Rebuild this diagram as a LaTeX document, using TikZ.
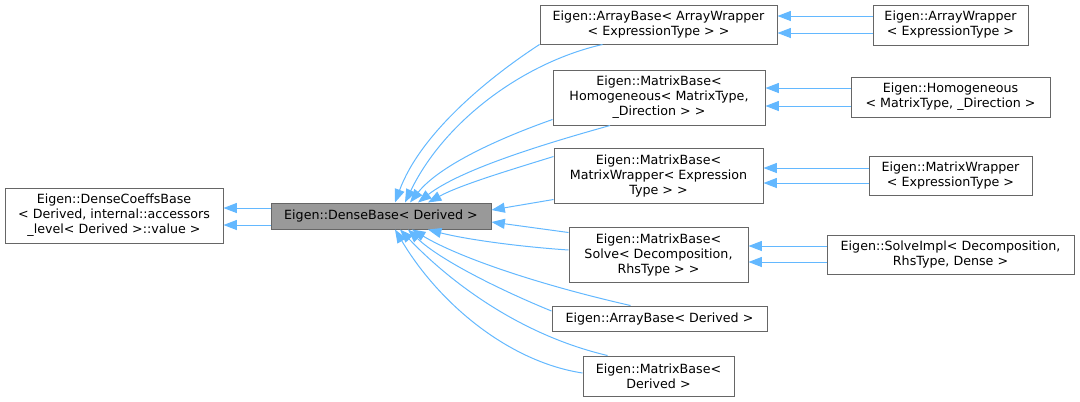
\documentclass[tikz,border=0pt]{standalone}
\usepackage{fontspec}
\setmainfont{DejaVu Sans}
\usetikzlibrary{arrows.meta, calc}

\definecolor{edgeblue}{HTML}{63B8FF}
\definecolor{boxgrey}{HTML}{666666}
\definecolor{fillgrey}{HTML}{999999}

\begin{document}
\begin{tikzpicture}[x=0.75pt, y=-0.75pt,
                cls/.style={draw=boxgrey, line width=0.75pt, rectangle, align=center, inner sep=0pt, font=\fontsize{9.5}{11.25}\selectfont},
                cur/.style={cls, fill=fillgrey},
                sz/.style 2 args={minimum width=#1*0.75pt, minimum height=#2*0.75pt},
                inh/.style={draw=edgeblue, line width=0.75pt, -{Triangle[length=10pt, width=7.5pt]}}
            ]
            \useasboundingbox (0,0) rectangle (1080,401);

            % Klassen
            \node[cls, sz={218}{55}] (dcb) at (114,215.5) {Eigen::DenseCoeffsBase\\< Derived, internal::accessors\\\_level< Derived >::value >};
            \node[cur, sz={220}{26}] (db) at (381,216) {Eigen::DenseBase< Derived >};

            \node[cls, sz={237}{39}] (abaw) at (658.5,24.5) {Eigen::ArrayBase< ArrayWrapper\\< ExpressionType > >};
            \node[cls, sz={212}{55}] (mbh) at (659,97.5) {Eigen::MatrixBase<\\Homogeneous< MatrixType,\\\_Direction > >};
            \node[cls, sz={209}{55}] (mbmw) at (658.5,175.5) {Eigen::MatrixBase<\\MatrixWrapper< Expression\\Type > >};
            \node[cls, sz={179}{55}] (mbs) at (658.5,254.5) {Eigen::MatrixBase<\\Solve< Decomposition,\\RhsType > >};
            \node[cls, sz={215}{25}] (abd) at (659.5,318.5) {Eigen::ArrayBase< Derived >};
            \node[cls, sz={151}{40}] (mbd) at (658.5,376) {Eigen::MatrixBase<\\Derived >};

            \node[cls, sz={155}{40}] (aw) at (950.5,25) {Eigen::ArrayWrapper\\< ExpressionType >};
            \node[cls, sz={199}{40}] (hom) at (950.5,97) {Eigen::Homogeneous\\< MatrixType, \_Direction >};
            \node[cls, sz={163}{39}] (mw) at (950.5,175.5) {Eigen::MatrixWrapper\\< ExpressionType >};
            \node[cls, sz={247}{39}] (si) at (950.5,254.5) {Eigen::SolveImpl< Decomposition,\\RhsType, Dense >};

            % Vererbung, jeweils doppelt
            \draw[inh] ($(db.west)+(0,-8)$) -- ($(dcb.east)+(0,-7.5)$);
            \draw[inh] ($(db.west)+(0,9)$) -- ($(dcb.east)+(0,9.5)$);

            \draw[inh] ($(aw.west)+(0,-9)$) -- ($(abaw.east)+(0,-8.5)$);
            \draw[inh] ($(aw.west)+(0,8)$) -- ($(abaw.east)+(0,8.5)$);
            \draw[inh] ($(hom.west)+(0,-9)$) -- ($(mbh.east)+(0,-9.5)$);
            \draw[inh] ($(hom.west)+(0,9)$) -- ($(mbh.east)+(0,8.5)$);
            \draw[inh] ($(mw.west)+(0,-7.5)$) -- ($(mbmw.east)+(0,-7.5)$);
            \draw[inh] ($(mw.west)+(0,7.5)$) -- ($(mbmw.east)+(0,7.5)$);
            \draw[inh] ($(si.west)+(0,-8.5)$) -- ($(mbs.east)+(0,-8.5)$);
            \draw[inh] ($(si.west)+(0,7.5)$) -- ($(mbs.east)+(0,7.5)$);

            \draw[inh] (abaw.south west) .. controls (485,80) and (420,135) .. ($(db.north)+(14,0)$);
            \draw[inh] ($(abaw.south)+(-56,0)$) .. controls (525,62) and (445,120) .. ($(db.north)+(24,0)$);
            \draw[inh] ($(mbh.south west)+(0,-6)$) .. controls (500,138) and (440,165) .. ($(db.north)+(29,0)$);
            \draw[inh] ($(mbh.south)+(-49,0)$) .. controls (540,145) and (460,170) .. ($(db.north)+(37,0)$);
            \draw[inh] ($(mbmw.north west)+(0,9)$) .. controls (510,170) and (460,185) .. ($(db.north)+(47,0)$);
            \draw[inh] ($(mbmw.south west)+(0,-4)$) -- ($(db.east)+(0,-6)$);
            \draw[inh] ($(mbs.north west)+(0,6)$) -- ($(db.east)+(0,6)$);
            \draw[inh] ($(mbs.west)+(0,-4.5)$) .. controls (510,246) and (460,238) .. ($(db.south)+(47,0)$);
            \draw[inh] ($(abd.west)+(0,-7.5)$) .. controls (500,290) and (440,260) .. ($(db.south)+(27,0)$);
            \draw[inh] ($(abd.north)+(-29,0)$) .. controls (540,285) and (460,258) .. ($(db.south)+(31,0)$);
            \draw[inh] ($(mbd.west)+(0,-3)$) .. controls (510,362) and (440,305) .. ($(db.south)+(14,0)$);
            \draw[inh] ($(mbd.north)+(-51,0)$) .. controls (520,335) and (450,282) .. ($(db.south)+(19,0)$);

        \end{tikzpicture}
\end{document}
